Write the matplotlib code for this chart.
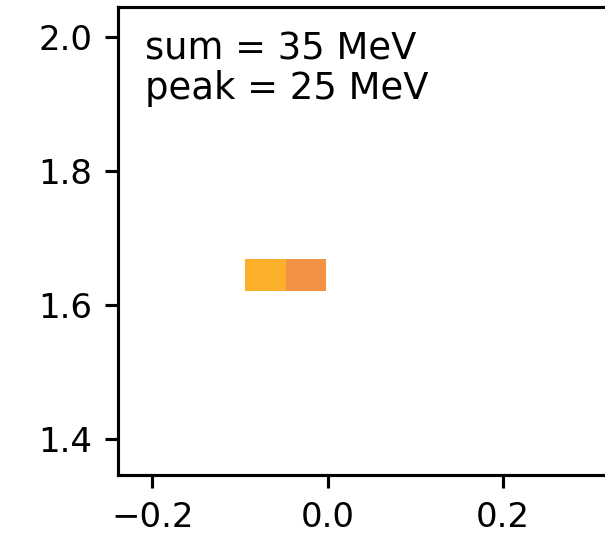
import numpy as np
import matplotlib
matplotlib.use("Agg")
import matplotlib.pyplot as plt
from matplotlib.colors import ListedColormap, Normalize

plt.rcParams["savefig.bbox"] = "standard"

# data
x_edges = [-0.094, -0.048, -0.002]
y_edges = [1.621, 1.668]
energies = [[25, 10]]          # MeV per cell
total_energy = 35
peak_energy = 25
cell_colors = ["#F39243", "#FBB02C"]

W, H = 605, 546
DPI = 225
fig = plt.figure(figsize=(W / DPI, H / DPI), dpi=DPI)

px_per_x = 876.5
left_px = 118.3
x0_px = 327.7
xlim = (-(x0_px - left_px) / px_per_x, (W - x0_px) / px_per_x)
ylim = (1.3466, 2.0438)
top_px, bot_px = 7.3, 475.0
ax = fig.add_axes([left_px / W, (H - bot_px) / H,
                   1 - left_px / W, (bot_px - top_px) / H])
ax.spines["right"].set_visible(False)
for s in ax.spines.values():
    s.set_linewidth(1.0)

cmap = ListedColormap(cell_colors)
ax.pcolormesh(x_edges, y_edges, np.array(energies), cmap=cmap,
              norm=Normalize(vmin=10, vmax=25))
ax.set_xlim(*xlim)
ax.set_ylim(*ylim)
ax.set_xticks([-0.2, 0.0, 0.2])
ax.set_yticks([1.4, 1.6, 1.8, 2.0])
ax.tick_params(labelsize=10.9, length=4.3, width=1.0, pad=4.0)

ax.text(-0.2085, 1.907, f"sum = {total_energy} MeV\npeak = {peak_energy} MeV",
        fontsize=11.8, va="baseline", ha="left", linespacing=1.1)

fig.savefig("out.png", dpi=DPI)
